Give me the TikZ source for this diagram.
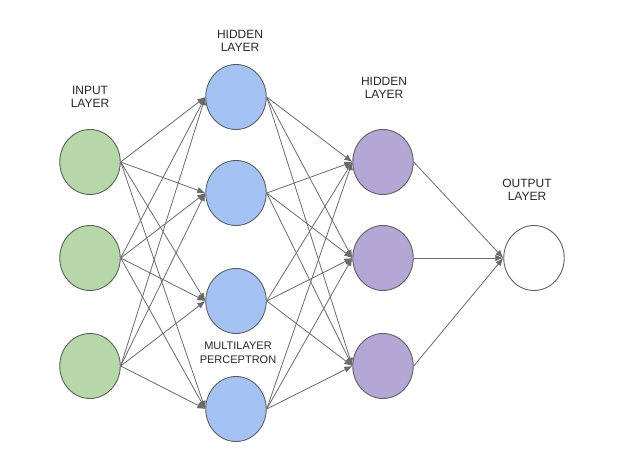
\documentclass[tikz,border=0pt]{standalone}
\usepackage{fontspec}
\setmainfont{Liberation Sans}
\usetikzlibrary{shapes.geometric,arrows.meta}
\definecolor{ingreen}{HTML}{B6D7A8}
\definecolor{hidblue}{HTML}{A4C2F4}
\definecolor{hidpurple}{HTML}{B4A7D6}
\definecolor{rimgray}{HTML}{5F5F5F}
\definecolor{linkgray}{HTML}{6A6A6A}
\tikzstyle{neuron} = [ellipse, minimum width=60.5pt, minimum height=65pt, inner sep=0pt, draw=rimgray, line width=0.9pt]
\tikzstyle{layertext} = [align=center, text=black!85, font=\fontsize{12}{13.5}\selectfont]
\tikzstyle{link} = [draw=linkgray, line width=0.8pt, -{Latex[length=8pt,width=6.5pt]}]

\begin{document}
\begin{tikzpicture}[x=1pt,y=-1pt]
	\useasboundingbox (0,0) rectangle (619,461);
	% layers
	\foreach \i/\y in {1/162,2/258,3/366}
		\node[neuron, fill=ingreen] (in\i) at (90,\y) {};
	\foreach \i/\y in {1/97,2/193,3/301,4/409}
		\node[neuron, fill=hidblue] (hA\i) at (236,\y) {};
	\foreach \i/\y in {1/162,2/258,3/366}
		\node[neuron, fill=hidpurple] (hB\i) at (383,\y) {};
	\node[neuron, fill=white] (out) at (534,258) {};
	% labels
	\node[layertext] (lblin) at (90,97) {INPUT\\LAYER};
	\node[layertext] (lblha) at (240,41) {HIDDEN\\LAYER};
	\node[layertext] (lblhb) at (384,88) {HIDDEN\\LAYER};
	\node[layertext] (lblout) at (527,190) {OUTPUT\\LAYER};
	\node[layertext, font=\fontsize{11}{13.5}\selectfont] (lblmlp) at (238,353) {MULTILAYER\\PERCEPTRON};
	% connections
	\foreach \i in {1,2,3}
		\foreach \j in {1,...,4}
			\draw[link] (in\i.east) -- (hA\j.west);
	\foreach \i in {1,...,4}
		\foreach \j in {1,2,3}
			\draw[link] (hA\i.east) -- (hB\j.west);
	\foreach \i in {1,2,3}
		\draw[link] (hB\i.east) -- (out.west);
\end{tikzpicture}
\end{document}
